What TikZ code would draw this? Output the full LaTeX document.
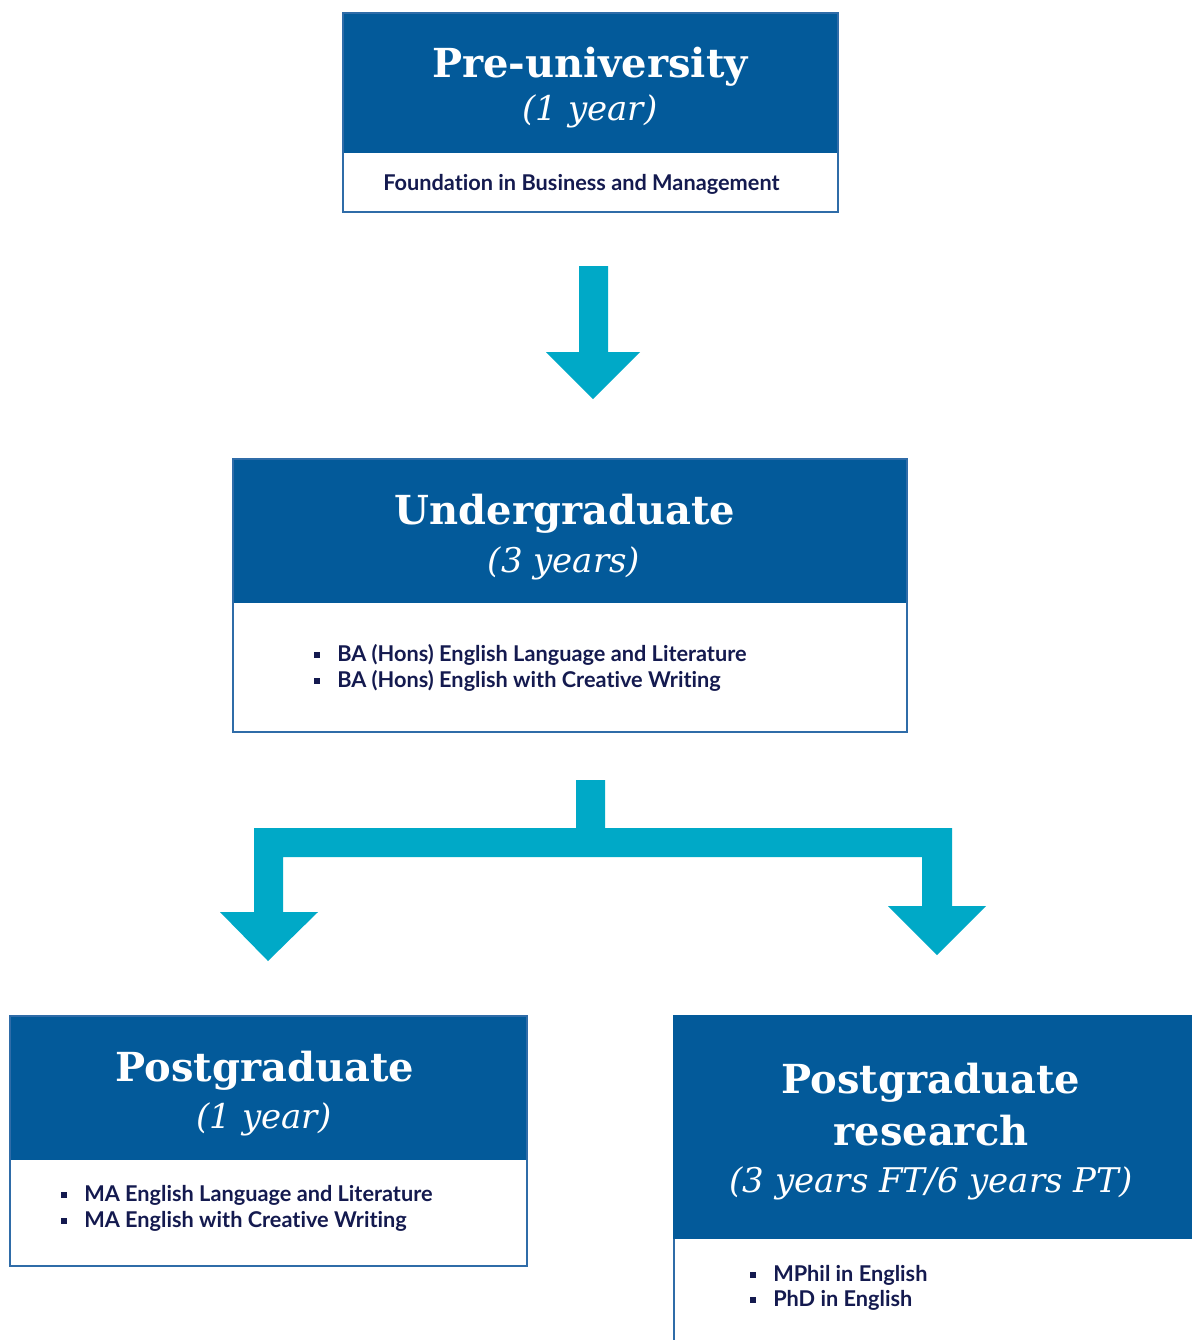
\documentclass[tikz,border=0pt]{standalone}
\usepackage{fontspec}
\setmainfont{Lato}
\newfontfamily\headfont{DejaVu Serif}
\newfontfamily\bodyfont[Ligatures=NoCommon]{Lato}
\definecolor{hdr}{HTML}{035A9A}
\definecolor{arrowc}{HTML}{00A9C7}
\definecolor{txt}{HTML}{141A4F}
\definecolor{bord}{HTML}{2F6CA8}
\begin{document}
\begin{tikzpicture}[x=0.75pt,y=-0.75pt,
 title/.style={font=\headfont\bfseries\fontsize{30}{32}\selectfont, text=white, anchor=base, inner sep=0},
 dur/.style={font=\headfont\itshape\fontsize{25.5}{28}\selectfont, text=white, anchor=base, inner sep=0},
 item/.style={font=\bodyfont\bfseries\fontsize{16.3}{19}\selectfont, text=txt, anchor=base west, inner sep=0},
 bullet/.style={fill=txt, minimum size=4.5pt, inner sep=0, outer sep=0},
 hdrfill/.style={fill=hdr},
 frame/.style={draw=bord, line width=1.1pt},
 flow/.style={fill=arrowc}]
\useasboundingbox (0,0) rectangle (1192,1340);
\fill[white] (0,0) rectangle (1192,1340);

% Box 1: Pre-university
\fill[hdrfill] (343,13) rectangle (838,153);
\draw[frame] (343,13) rectangle (838,212);
\node[title] (t1) at (590,77) {Pre-university};
\node[dur] (d1) at (590,120) {(1 year)};
\node[item] (i1) at (383,190) {Foundation in Business and Management};

% Arrow 1
\path[flow] (579,266) -- (608,266) -- (608,352) -- (640,352) -- (593,399) -- (546,352) -- (579,352) -- cycle;

% Box 2: Undergraduate
\fill[hdrfill] (233,459) rectangle (907,603);
\draw[frame] (233,459) rectangle (907,732);
\node[title] (t2) at (565,524) {Undergraduate};
\node[dur] (d2) at (564,572) {(3 years)};
\node[bullet] (b21) at (317,655) {};
\node[item] (i21) at (337,661) {BA (Hons) English Language and Literature};
\node[bullet] (b22) at (317,681) {};
\node[item] (i22) at (337,687) {BA (Hons) English with Creative Writing};

% Fork arrow
\path[flow] (576,780) -- (605,780) -- (605,828) -- (952,828) -- (952,906) -- (986,906) -- (937,955) -- (888,906) -- (922,906) -- (922,857) -- (283,857) -- (283,912) -- (318,912) -- (268,961) -- (220,912) -- (254,912) -- (254,828) -- (576,828) -- cycle;

% Box 3: Postgraduate
\fill[hdrfill] (10,1016) rectangle (527,1160);
\draw[frame] (10,1016) rectangle (527,1266);
\node[title] (t3) at (265,1081) {Postgraduate};
\node[dur] (d3) at (264,1128) {(1 year)};
\node[bullet] (b31) at (63.5,1195) {};
\node[item] (i31) at (84,1201) {MA English Language and Literature};
\node[bullet] (b32) at (63.5,1221) {};
\node[item] (i32) at (84,1227) {MA English with Creative Writing};

% Box 4: Postgraduate research
\fill[hdrfill] (673,1015) rectangle (1192,1239);
\draw[frame] (674,1239) -- (674,1340);
\node[title] (t4) at (931,1093) {Postgraduate};
\node[title] (t4b) at (931,1145) {research};
\node[dur] (d4) at (931,1192) {(3 years FT/6 years PT)};
\node[bullet] (b41) at (753,1275) {};
\node[item] (i41) at (773,1281) {MPhil in English};
\node[bullet] (b42) at (753,1300) {};
\node[item] (i42) at (773,1306) {PhD in English};
\end{tikzpicture}
\end{document}
